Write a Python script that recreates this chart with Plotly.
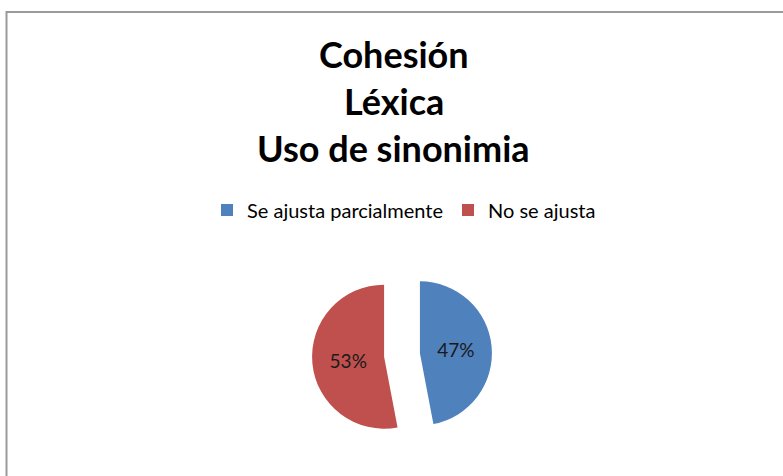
import plotly.graph_objects as go

categories = ["Se ajusta parcialmente", "No se ajusta"]
values = [47, 53]
colors = ["#4F81BD", "#C0504D"]
title_lines = ["Cohesión", "Léxica", "Uso de sinonimia"]

W, H = 783, 476

fig = go.Figure()
fig.add_trace(go.Pie(
    labels=categories,
    values=values,
    marker=dict(colors=colors),
    sort=False,
    direction="clockwise",
    rotation=0,
    pull=[0.25, 0.25],
    textinfo="percent",
    texttemplate="%{percent:.0%}",
    textposition="inside",
    insidetextorientation="horizontal",
    textfont=dict(family="Lato, sans-serif", size=19, color="#1a1a1a"),
    domain=dict(x=[(402 - 90) / W, (402 + 90) / W], y=[(476 - 355 - 90) / H, (476 - 355 + 90) / H]),
    hoverinfo="label+percent",
))

# title lines
for txt, yc in zip(title_lines, [54, 101, 148]):
    fig.add_annotation(
        text=f"<b>{txt}</b>", x=0.5 + 2 / W, y=1 - yc / H, xref="paper", yref="paper",
        xanchor="center", yanchor="middle", showarrow=False,
        font=dict(family="Lato, sans-serif", size=36, color="#000000"),
    )

fig.add_shape(type="rect", xref="paper", yref="paper",
              x0=6.5 / W, x1=1.02, y0=-0.02, y1=1 - 12 / H,
              line=dict(color="#9a9a9a", width=2), fillcolor="rgba(0,0,0,0)")

fig.update_layout(
    width=W, height=H,
    margin=dict(l=0, r=0, t=0, b=0),
    paper_bgcolor="white",
    plot_bgcolor="white",
    showlegend=True,
    legend=dict(orientation="h", x=404 / W, xanchor="center", y=1 - 210 / H, yanchor="middle",
                font=dict(family="Lato, sans-serif", size=20, color="#000000"),
                itemwidth=30, tracegroupgap=0),
)

fig.write_html("out.html", config={"displayModeBar": False},
               post_script="document.body.style.margin='0';")
